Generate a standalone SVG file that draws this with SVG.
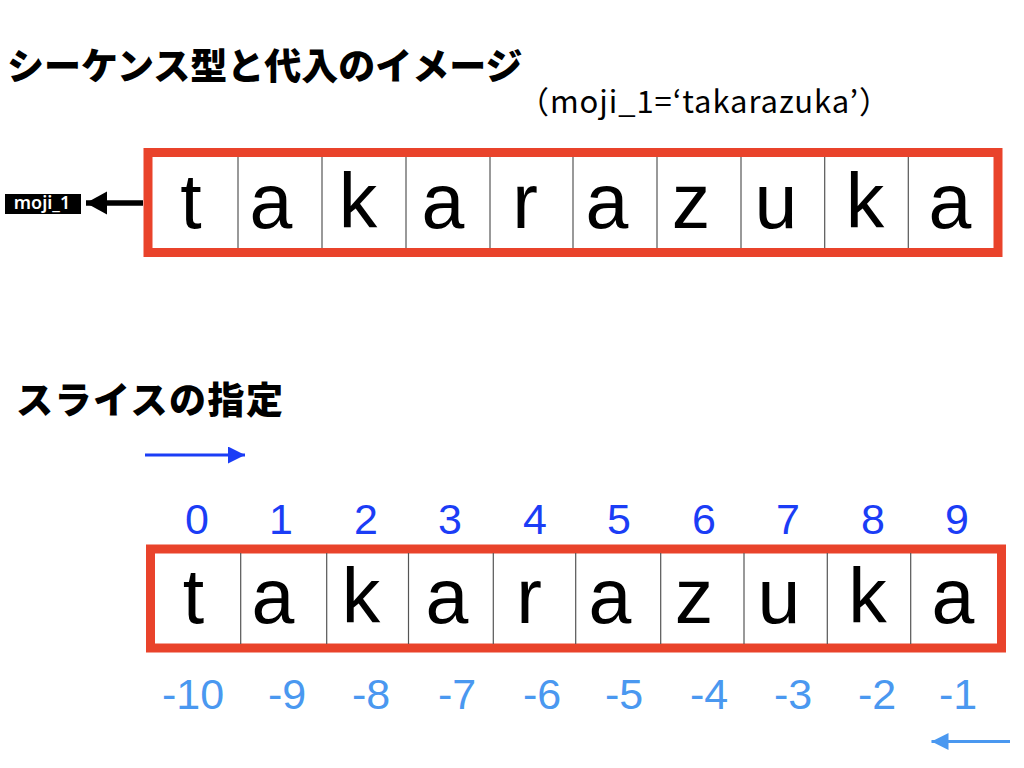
<svg xmlns="http://www.w3.org/2000/svg" width="1024" height="768" viewBox="0 0 1024 768">
  <style>
    .title { font-family: "Noto Sans CJK JP", sans-serif; font-weight: 900; font-size: 37px; fill: #000; }
    .sub { font-family: "Noto Sans CJK JP", sans-serif; font-size: 31px; fill: #000; }
    .box { fill: #fff; stroke: #E9432B; stroke-width: 9; }
    .div { stroke: #555; stroke-width: 1.2; }
    .ch { font-family: "Liberation Sans", Arial, sans-serif; font-size: 77px; fill: #000; text-anchor: middle; }
    .pos { font-family: "Liberation Sans", Arial, sans-serif; font-size: 43px; fill: #1B3DF6; text-anchor: middle; }
    .neg { font-family: "Liberation Sans", Arial, sans-serif; font-size: 43px; fill: #4A98F0; text-anchor: middle; }
    .lbl { font-family: "Noto Sans", "Liberation Sans", sans-serif; font-weight: 600; font-size: 18px; fill: #fff; text-anchor: middle; }
  </style>
  <defs>
    <marker id="ahBlack" markerUnits="userSpaceOnUse" markerWidth="22" markerHeight="24" refX="21" refY="11.5" orient="auto">
      <path d="M0,0 L21,11.5 L0,23 Z" fill="#000"/>
    </marker>
    <marker id="ahBlue" markerUnits="userSpaceOnUse" markerWidth="18" markerHeight="18" refX="17" refY="8.5" orient="auto">
      <path d="M0,0 L17,8.5 L0,17 Z" fill="#1B3DF6"/>
    </marker>
    <marker id="ahLight" markerUnits="userSpaceOnUse" markerWidth="18" markerHeight="18" refX="17" refY="8.5" orient="auto">
      <path d="M0,0 L17,8.5 L0,17 Z" fill="#4A98F0"/>
    </marker>
  </defs>
  <rect width="1024" height="768" fill="#fff"/>

  <g id="title1"><text class="title" x="7" y="80">シーケンス型と代入のイメージ</text></g>
  <g id="subtitle"><text class="sub" x="518" y="113" textLength="372" lengthAdjust="spacing">（moji_1=‘takarazuka’）</text></g>
  <g id="title2"><text class="title" x="16" y="414" letter-spacing="1.5">スライスの指定</text></g>

  <g id="label-moji1">
    <rect x="5" y="194" width="76" height="20" fill="#000"/>
    <text class="lbl" x="42" y="208.5">moji_1</text>
  </g>

  <g id="string-top">
    <rect class="box" x="148" y="152.5" width="850" height="100"/>
    <line class="div" x1="238" y1="157" x2="238" y2="248"/>
    <line class="div" x1="322" y1="157" x2="322" y2="248"/>
    <line class="div" x1="406" y1="157" x2="406" y2="248"/>
    <line class="div" x1="490" y1="157" x2="490" y2="248"/>
    <line class="div" x1="573" y1="157" x2="573" y2="248"/>
    <line class="div" x1="657" y1="157" x2="657" y2="248"/>
    <line class="div" x1="741" y1="157" x2="741" y2="248"/>
    <line class="div" x1="824.7" y1="157" x2="824.7" y2="248"/>
    <line class="div" x1="908.3" y1="157" x2="908.3" y2="248"/>
    <text class="ch" x="191" y="228">t</text>
    <text class="ch" x="271" y="228">a</text>
    <text class="ch" x="358" y="228">k</text>
    <text class="ch" x="443" y="228">a</text>
    <text class="ch" x="525" y="228">r</text>
    <text class="ch" x="607" y="228">a</text>
    <text class="ch" x="691" y="228">z</text>
    <text class="ch" x="776" y="228">u</text>
    <text class="ch" x="865" y="228">k</text>
    <text class="ch" x="950" y="228">a</text>
  </g>

  <g id="string-bottom">
    <rect class="box" x="150.5" y="549" width="851" height="99"/>
    <line class="div" x1="240.7" y1="553" x2="240.7" y2="644"/>
    <line class="div" x1="326.7" y1="553" x2="326.7" y2="644"/>
    <line class="div" x1="408.5" y1="553" x2="408.5" y2="644"/>
    <line class="div" x1="493.3" y1="553" x2="493.3" y2="644"/>
    <line class="div" x1="575.7" y1="553" x2="575.7" y2="644"/>
    <line class="div" x1="660.7" y1="553" x2="660.7" y2="644"/>
    <line class="div" x1="744" y1="553" x2="744" y2="644"/>
    <line class="div" x1="827.3" y1="553" x2="827.3" y2="644"/>
    <line class="div" x1="910.7" y1="553" x2="910.7" y2="644"/>
    <text class="ch" x="193.5" y="623">t</text>
    <text class="ch" x="273" y="623">a</text>
    <text class="ch" x="361" y="623">k</text>
    <text class="ch" x="447" y="623">a</text>
    <text class="ch" x="529" y="623">r</text>
    <text class="ch" x="610" y="623">a</text>
    <text class="ch" x="694" y="623">z</text>
    <text class="ch" x="779" y="623">u</text>
    <text class="ch" x="867.5" y="623">k</text>
    <text class="ch" x="953" y="623">a</text>
  </g>

  <g id="index-positive">
    <text class="pos" x="197" y="534">0</text>
    <text class="pos" x="281" y="534">1</text>
    <text class="pos" x="366" y="534">2</text>
    <text class="pos" x="450" y="534">3</text>
    <text class="pos" x="535" y="534">4</text>
    <text class="pos" x="619" y="534">5</text>
    <text class="pos" x="704" y="534">6</text>
    <text class="pos" x="788" y="534">7</text>
    <text class="pos" x="873" y="534">8</text>
    <text class="pos" x="957" y="534">9</text>
  </g>

  <g id="index-negative">
    <text class="neg" x="193" y="709">-10</text>
    <text class="neg" x="287" y="709">-9</text>
    <text class="neg" x="371" y="709">-8</text>
    <text class="neg" x="457" y="709">-7</text>
    <text class="neg" x="542" y="709">-6</text>
    <text class="neg" x="624" y="709">-5</text>
    <text class="neg" x="709" y="709">-4</text>
    <text class="neg" x="793" y="709">-3</text>
    <text class="neg" x="877" y="709">-2</text>
    <text class="neg" x="958" y="709">-1</text>
  </g>

  <g id="connectors">
    <line x1="143" y1="203" x2="86" y2="203" stroke="#000" stroke-width="5.5" marker-end="url(#ahBlack)"/>
    <line x1="145" y1="455" x2="245" y2="455" stroke="#1B3DF6" stroke-width="3" marker-end="url(#ahBlue)"/>
    <line x1="1010" y1="741.5" x2="931.5" y2="741.5" stroke="#4A98F0" stroke-width="3" marker-end="url(#ahLight)"/>
  </g>
</svg>
